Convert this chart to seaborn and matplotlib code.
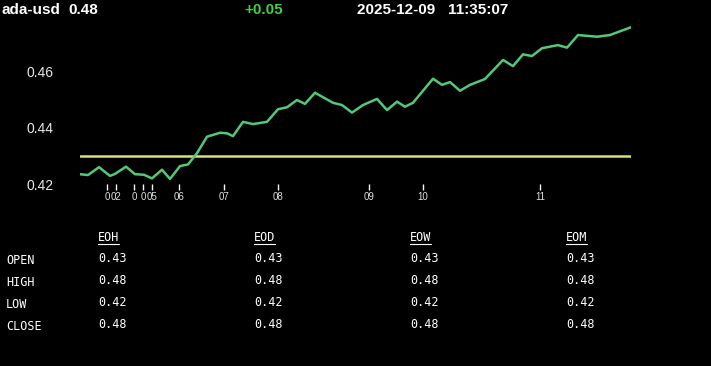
import matplotlib
matplotlib.use("Agg")
import matplotlib.pyplot as plt
import seaborn as sns
import pandas as pd
from matplotlib.lines import Line2D

# ---------------- data ----------------
symbol = "ada-usd"
last_price = "0.48"
change = "+0.05"
timestamp = "2025-12-09   11:35:07"
open_level = 0.43

sample_idx = [0, 8, 19, 30, 35, 46, 55, 64, 72, 82, 90, 100, 108, 117, 127, 140, 147, 153,
              163, 173, 187, 198, 207, 217, 225, 235, 245, 253, 262, 272, 283, 297, 307, 317,
              325, 333, 353, 362, 370, 380, 390, 405, 423, 433, 443, 452, 462, 478, 487, 498,
              517, 530, 551]
price = [0.4235, 0.4232, 0.4260, 0.4229, 0.4236, 0.4262, 0.4235, 0.4233, 0.4220, 0.4251,
         0.4218, 0.4264, 0.4270, 0.4310, 0.4369, 0.4383, 0.4381, 0.4371, 0.4422, 0.4414,
         0.4422, 0.4467, 0.4474, 0.4500, 0.4486, 0.4526, 0.4506, 0.4490, 0.4482, 0.4455,
         0.4482, 0.4504, 0.4464, 0.4494, 0.4476, 0.4490, 0.4576, 0.4554, 0.4564, 0.4533,
         0.4554, 0.4575, 0.4643, 0.4621, 0.4663, 0.4657, 0.4685, 0.4696, 0.4687, 0.4732,
         0.4726, 0.4732, 0.4760]

tick_idx = [27, 36, 54, 63, 72, 99, 144, 198, 289, 343, 460]
tick_labels = ["0", "02", "0", "0", "05", "06", "07", "08", "09", "10", "11"]
y_ticks = [0.42, 0.44, 0.46]

table_cols = ["EOH", "EOD", "EOW", "EOM"]
table_rows = ["OPEN", "HIGH", "LOW", "CLOSE"]
table_vals = {
    "EOH": ["0.43", "0.48", "0.42", "0.48"],
    "EOD": ["0.43", "0.48", "0.42", "0.48"],
    "EOW": ["0.43", "0.48", "0.42", "0.48"],
    "EOM": ["0.43", "0.48", "0.42", "0.48"],
}

# ---------------- style ----------------
sns.set_style("dark")
plt.rcParams["font.family"] = ["Liberation Sans", "DejaVu Sans"]
plt.rcParams["figure.facecolor"] = "black"
plt.rcParams["axes.facecolor"] = "black"

W, H = 711, 366
fig = plt.figure(figsize=(W / 100, H / 100), dpi=100)
ax = fig.add_axes([80 / W, 1 - 184 / H, (631 - 80) / W, (184 - 20) / H])
ax.set_facecolor("black")

df = pd.DataFrame({"idx": sample_idx, "price": price})
ax.axhline(open_level, color="#d8e07a", lw=1.8, zorder=2)
sns.lineplot(data=df, x="idx", y="price", ax=ax, color="#52c878", lw=1.8, zorder=3)

ax.set_xlim(0, 551)
ax.set_ylim(0.42, 0.42 + (184 - 20) / 2800)
ax.set_xlabel("")
ax.set_ylabel("")
ax.grid(False)
for s in ax.spines.values():
    s.set_visible(False)

ax.set_yticks(y_ticks)
ax.set_yticklabels([f"{v:.2f}" for v in y_ticks], color="#e8e8e8", fontsize=10)
ax.tick_params(axis="y", left=False, length=0, pad=19)

ax.set_xticks(tick_idx)
ax.set_xticklabels(tick_labels, color="#e0e0e0", fontsize=7)
ax.tick_params(axis="x", bottom=True, length=4, width=1, color="white",
               direction="out", pad=1.5)

# ---------------- header ----------------
hy = 1 - 9.5 / H
fig.text(2 / W, hy, symbol, color="white", fontsize=11, fontweight="bold", va="center", ha="left")
fig.text(68 / W, hy, last_price, color="white", fontsize=11, fontweight="bold", va="center", ha="left")
fig.text(244 / W, hy, change, color="#3fcf3f", fontsize=11, fontweight="bold", va="center", ha="left")
fig.text(357 / W, hy, timestamp, color="white", fontsize=11, fontweight="bold", va="center", ha="left")

# ---------------- table ----------------
mono = ["DejaVu Sans Mono"]
col_x = [98, 254, 410, 566]
row_y = [259, 281, 303, 325]
head_y = 238
head_texts = []
for cx, col in zip(col_x, table_cols):
    t = fig.text(cx / W, 1 - head_y / H, col, color="white", fontsize=8.5, family=mono,
                 va="center", ha="left")
    head_texts.append(t)
    for ry, val in zip(row_y, table_vals[col]):
        fig.text(cx / W, 1 - ry / H, val, color="white", fontsize=8.5, family=mono,
                 va="center", ha="left")
for ry, rl in zip(row_y, table_rows):
    fig.text(6 / W, 1 - (ry + 1) / H, rl, color="white", fontsize=8.5, family=mono,
             va="center", ha="left")

fig.canvas.draw()
r = fig.canvas.get_renderer()
inv = fig.transFigure.inverted()
for t in head_texts:
    bb = t.get_window_extent(renderer=r)
    (x0, y0), (x1, y1) = inv.transform([[bb.x0, bb.y0], [bb.x1, bb.y0]])
    fig.lines.append(Line2D([x0, x1], [y0 + 0.5 / H, y0 + 0.5 / H], transform=fig.transFigure,
                            color="white", lw=0.8))

fig.savefig("out.png", dpi=100, facecolor="black")
